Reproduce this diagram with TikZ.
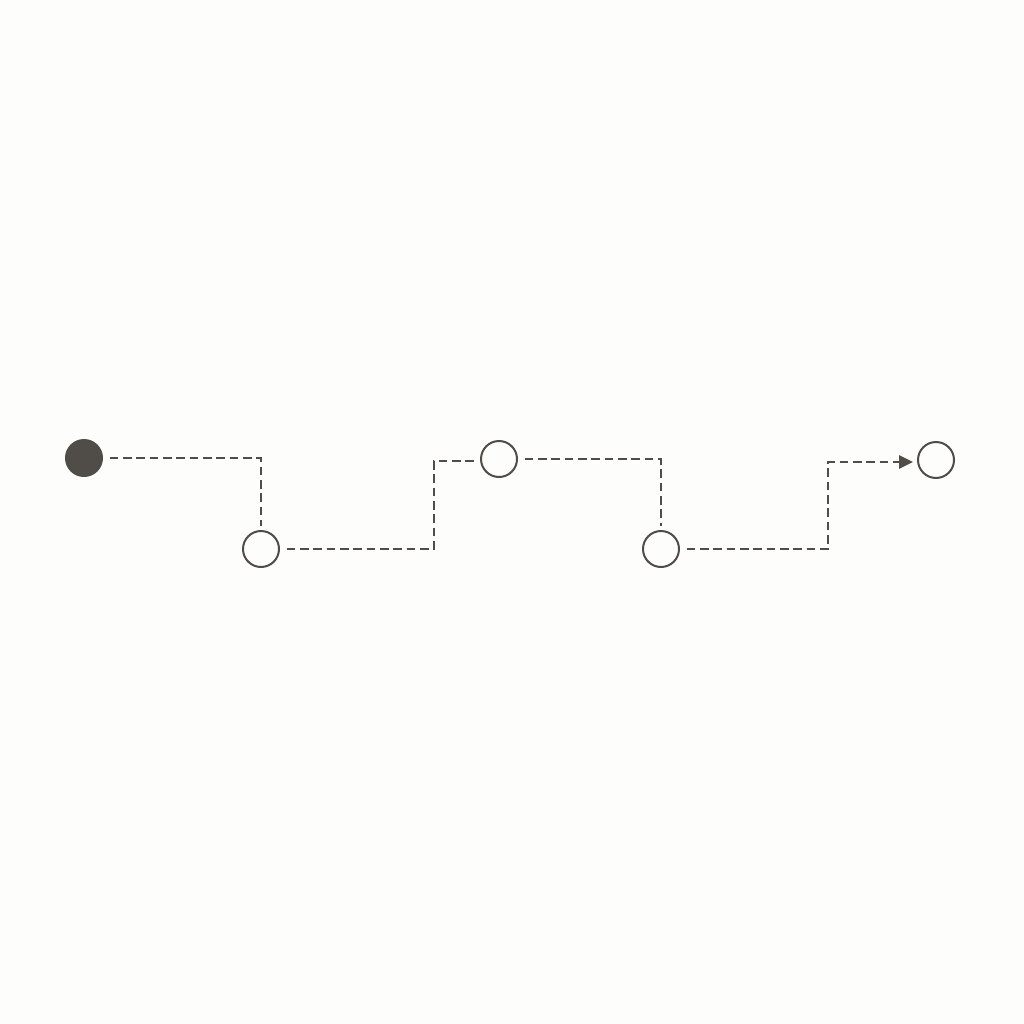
\documentclass[tikz,border=0pt]{standalone}
\usetikzlibrary{arrows.meta}

\definecolor{ink}{RGB}{80,77,72}
\definecolor{paper}{RGB}{253,253,252}

\tikzset{
  stop/.style={circle,draw=ink,line width=1.5pt,fill=paper,minimum size=27pt,inner sep=0pt},
  start/.style={stop,fill=ink},
  link/.style={draw=ink,line width=1.4pt,dash pattern=on 6.5pt off 3.5pt,shorten <=5pt,shorten >=3pt},
}

\begin{document}
\begin{tikzpicture}[x=0.75pt,y=0.75pt,yscale=-1,xscale=1]

\fill[paper] (0,0) rectangle (1024,1024);

\node[start] (s) at (84,458) {};
\node[stop] (a) at (261,549) {};
\node[stop] (b) at (499,459) {};
\node[stop] (c) at (661,549) {};
\node[stop] (e) at (936,460) {};

\coordinate (k1) at (434,461);
\coordinate (k2) at (828,462);

\draw[link] (s.east) -| (a.north);
\draw[link] (a.east) -| (k1) -- (k1 -| b.west);
\draw[link] (b.east) -| (c.north);
\draw[link,-{Triangle[length=10.5pt,width=10pt]}] (c.east) -| (k2) -- (k2 -| e.west);

\end{tikzpicture}
\end{document}
